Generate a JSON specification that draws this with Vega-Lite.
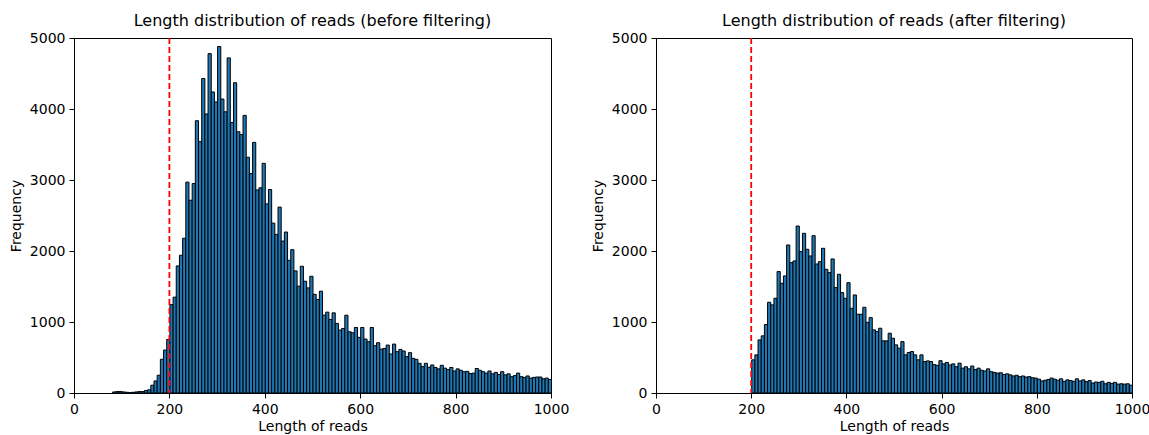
{
  "$schema": "https://vega.github.io/schema/vega-lite/v6.json",
  "background": "white",
  "padding": {"left": 8, "top": 12, "right": 0, "bottom": 0},
  "datasets": {
    "before": [
      {"length": 83, "count": 15}, {"length": 90, "count": 20}, {"length": 97, "count": 20}, {"length": 103, "count": 15},
      {"length": 110, "count": 10}, {"length": 117, "count": 5}, {"length": 123, "count": 10}, {"length": 130, "count": 15},
      {"length": 137, "count": 20}, {"length": 143, "count": 20}, {"length": 150, "count": 35}, {"length": 157, "count": 45},
      {"length": 163, "count": 110}, {"length": 170, "count": 170}, {"length": 177, "count": 250}, {"length": 183, "count": 475},
      {"length": 190, "count": 605}, {"length": 197, "count": 755}, {"length": 203, "count": 1245}, {"length": 210, "count": 1350},
      {"length": 217, "count": 1790}, {"length": 223, "count": 1940}, {"length": 230, "count": 2180}, {"length": 237, "count": 2970},
      {"length": 243, "count": 2715}, {"length": 250, "count": 2950}, {"length": 257, "count": 3835}, {"length": 263, "count": 3540},
      {"length": 270, "count": 4430}, {"length": 277, "count": 3930}, {"length": 283, "count": 4780}, {"length": 290, "count": 4240},
      {"length": 297, "count": 4100}, {"length": 303, "count": 4880}, {"length": 310, "count": 4140}, {"length": 317, "count": 3960},
      {"length": 323, "count": 4720}, {"length": 330, "count": 3810}, {"length": 337, "count": 4370}, {"length": 343, "count": 3680},
      {"length": 350, "count": 3640}, {"length": 357, "count": 3910}, {"length": 363, "count": 3320}, {"length": 370, "count": 3090},
      {"length": 377, "count": 3530}, {"length": 383, "count": 2860}, {"length": 390, "count": 2890}, {"length": 397, "count": 3235},
      {"length": 403, "count": 2664}, {"length": 410, "count": 2866}, {"length": 417, "count": 2393}, {"length": 423, "count": 2234},
      {"length": 430, "count": 2618}, {"length": 437, "count": 2140}, {"length": 443, "count": 2267}, {"length": 450, "count": 1869},
      {"length": 457, "count": 2019}, {"length": 463, "count": 1720}, {"length": 470, "count": 1504}, {"length": 477, "count": 1785},
      {"length": 483, "count": 1574}, {"length": 490, "count": 1480}, {"length": 497, "count": 1644}, {"length": 503, "count": 1390},
      {"length": 510, "count": 1317}, {"length": 517, "count": 1434}, {"length": 523, "count": 1097}, {"length": 530, "count": 1139},
      {"length": 537, "count": 1036}, {"length": 543, "count": 1129}, {"length": 550, "count": 980}, {"length": 557, "count": 886},
      {"length": 563, "count": 909}, {"length": 570, "count": 1096}, {"length": 577, "count": 862}, {"length": 583, "count": 848},
      {"length": 590, "count": 923}, {"length": 597, "count": 783}, {"length": 603, "count": 923}, {"length": 610, "count": 760},
      {"length": 617, "count": 722}, {"length": 623, "count": 923}, {"length": 630, "count": 666}, {"length": 637, "count": 708},
      {"length": 643, "count": 619}, {"length": 650, "count": 628}, {"length": 657, "count": 675}, {"length": 663, "count": 549},
      {"length": 670, "count": 689}, {"length": 677, "count": 582}, {"length": 683, "count": 614}, {"length": 690, "count": 591},
      {"length": 697, "count": 512}, {"length": 703, "count": 568}, {"length": 710, "count": 488}, {"length": 717, "count": 474},
      {"length": 723, "count": 418}, {"length": 730, "count": 371}, {"length": 737, "count": 418}, {"length": 743, "count": 362},
      {"length": 750, "count": 395}, {"length": 757, "count": 360}, {"length": 763, "count": 340}, {"length": 770, "count": 390},
      {"length": 777, "count": 350}, {"length": 783, "count": 330}, {"length": 790, "count": 360}, {"length": 797, "count": 310},
      {"length": 803, "count": 340}, {"length": 810, "count": 320}, {"length": 817, "count": 300}, {"length": 823, "count": 305},
      {"length": 830, "count": 275}, {"length": 837, "count": 280}, {"length": 843, "count": 345}, {"length": 850, "count": 320},
      {"length": 857, "count": 300}, {"length": 863, "count": 280}, {"length": 870, "count": 310}, {"length": 877, "count": 270},
      {"length": 883, "count": 290}, {"length": 890, "count": 260}, {"length": 897, "count": 300}, {"length": 903, "count": 255},
      {"length": 910, "count": 270}, {"length": 917, "count": 230}, {"length": 923, "count": 245}, {"length": 930, "count": 280},
      {"length": 937, "count": 230}, {"length": 943, "count": 220}, {"length": 950, "count": 240}, {"length": 957, "count": 210},
      {"length": 963, "count": 220}, {"length": 970, "count": 225}, {"length": 977, "count": 225}, {"length": 983, "count": 200},
      {"length": 990, "count": 210}, {"length": 997, "count": 190}
    ],
    "after": [
      {"length": 203, "count": 467}, {"length": 210, "count": 537}, {"length": 217, "count": 748}, {"length": 223, "count": 805},
      {"length": 230, "count": 964}, {"length": 237, "count": 1278}, {"length": 243, "count": 1241}, {"length": 250, "count": 1334},
      {"length": 257, "count": 1710}, {"length": 263, "count": 1545}, {"length": 270, "count": 1649}, {"length": 277, "count": 2085},
      {"length": 283, "count": 1836}, {"length": 290, "count": 1860}, {"length": 297, "count": 2352}, {"length": 303, "count": 1991},
      {"length": 310, "count": 2249}, {"length": 317, "count": 2024}, {"length": 323, "count": 1930}, {"length": 330, "count": 2216},
      {"length": 337, "count": 1817}, {"length": 343, "count": 1850}, {"length": 350, "count": 2038}, {"length": 357, "count": 1742},
      {"length": 363, "count": 1696}, {"length": 370, "count": 1888}, {"length": 377, "count": 1484}, {"length": 383, "count": 1672},
      {"length": 390, "count": 1414}, {"length": 397, "count": 1334}, {"length": 403, "count": 1554}, {"length": 410, "count": 1193},
      {"length": 417, "count": 1381}, {"length": 423, "count": 1109}, {"length": 430, "count": 1109}, {"length": 437, "count": 1207},
      {"length": 443, "count": 996}, {"length": 450, "count": 1062}, {"length": 457, "count": 889}, {"length": 463, "count": 865},
      {"length": 470, "count": 912}, {"length": 477, "count": 734}, {"length": 483, "count": 734}, {"length": 490, "count": 842},
      {"length": 497, "count": 771}, {"length": 503, "count": 678}, {"length": 510, "count": 631}, {"length": 517, "count": 724},
      {"length": 523, "count": 537}, {"length": 530, "count": 570}, {"length": 537, "count": 584}, {"length": 543, "count": 537},
      {"length": 550, "count": 467}, {"length": 557, "count": 537}, {"length": 563, "count": 443}, {"length": 570, "count": 452},
      {"length": 577, "count": 443}, {"length": 583, "count": 400}, {"length": 590, "count": 390}, {"length": 597, "count": 455},
      {"length": 603, "count": 410}, {"length": 610, "count": 430}, {"length": 617, "count": 395}, {"length": 623, "count": 410},
      {"length": 630, "count": 370}, {"length": 637, "count": 420}, {"length": 643, "count": 350}, {"length": 650, "count": 370},
      {"length": 657, "count": 340}, {"length": 663, "count": 380}, {"length": 670, "count": 330}, {"length": 677, "count": 350},
      {"length": 683, "count": 320}, {"length": 690, "count": 310}, {"length": 697, "count": 340}, {"length": 703, "count": 300},
      {"length": 710, "count": 290}, {"length": 717, "count": 280}, {"length": 723, "count": 285}, {"length": 730, "count": 260},
      {"length": 737, "count": 270}, {"length": 743, "count": 255}, {"length": 750, "count": 240}, {"length": 757, "count": 250},
      {"length": 763, "count": 230}, {"length": 770, "count": 240}, {"length": 777, "count": 225}, {"length": 783, "count": 230},
      {"length": 790, "count": 215}, {"length": 797, "count": 210}, {"length": 803, "count": 195}, {"length": 810, "count": 170},
      {"length": 817, "count": 180}, {"length": 823, "count": 190}, {"length": 830, "count": 210}, {"length": 837, "count": 195},
      {"length": 843, "count": 180}, {"length": 850, "count": 200}, {"length": 857, "count": 165}, {"length": 863, "count": 185},
      {"length": 870, "count": 175}, {"length": 877, "count": 165}, {"length": 883, "count": 200}, {"length": 890, "count": 170},
      {"length": 897, "count": 185}, {"length": 903, "count": 160}, {"length": 910, "count": 175}, {"length": 917, "count": 140},
      {"length": 923, "count": 155}, {"length": 930, "count": 150}, {"length": 937, "count": 165}, {"length": 943, "count": 130},
      {"length": 950, "count": 150}, {"length": 957, "count": 135}, {"length": 963, "count": 150}, {"length": 970, "count": 125},
      {"length": 977, "count": 130}, {"length": 983, "count": 125}, {"length": 990, "count": 130}, {"length": 997, "count": 110}
    ],
    "threshold": [{"cutoff": 200}]
  },
  "spacing": 105,
  "bounds": "flush",
  "hconcat": [
    {
      "width": 477,
      "height": 355,
      "title": "Length distribution of reads (before filtering)",
      "layer": [
        {
          "data": {"name": "before"},
          "mark": {"type": "bar", "fill": "#1f77b4", "stroke": "black", "strokeWidth": 1, "binSpacing": 0},
          "encoding": {
            "x": {"field": "length", "type": "quantitative", "bin": {"extent": [0, 1000], "step": 6.666666666666667, "nice": false},
                  "title": "Length of reads", "scale": {"domain": [0, 1000]},
                  "axis": {"values": [0, 200, 400, 600, 800, 1000], "format": "d", "labelFlush": false}},
            "y": {"field": "count", "aggregate": "sum", "type": "quantitative", "title": "Frequency",
                  "scale": {"domain": [0, 5000]},
                  "axis": {"values": [0, 1000, 2000, 3000, 4000, 5000], "format": "d"}}
          }
        },
        {
          "data": {"name": "threshold"},
          "mark": {"type": "rule", "color": "#ff0000", "strokeWidth": 1.8, "strokeDash": [6, 3]},
          "encoding": {"x": {"field": "cutoff", "type": "quantitative", "title": "Length of reads"}}
        }
      ]
    },
    {
      "width": 476,
      "height": 355,
      "title": "Length distribution of reads (after filtering)",
      "layer": [
        {
          "data": {"name": "after"},
          "mark": {"type": "bar", "fill": "#1f77b4", "stroke": "black", "strokeWidth": 1, "binSpacing": 0},
          "encoding": {
            "x": {"field": "length", "type": "quantitative", "bin": {"extent": [0, 1000], "step": 6.666666666666667, "nice": false},
                  "title": "Length of reads", "scale": {"domain": [0, 1000]},
                  "axis": {"values": [0, 200, 400, 600, 800, 1000], "format": "d", "labelFlush": false}},
            "y": {"field": "count", "aggregate": "sum", "type": "quantitative", "title": "Frequency",
                  "scale": {"domain": [0, 5000]},
                  "axis": {"values": [0, 1000, 2000, 3000, 4000, 5000], "format": "d"}}
          }
        },
        {
          "data": {"name": "threshold"},
          "mark": {"type": "rule", "color": "#ff0000", "strokeWidth": 1.8, "strokeDash": [6, 3]},
          "encoding": {"x": {"field": "cutoff", "type": "quantitative", "title": "Length of reads"}}
        }
      ]
    }
  ],
  "config": {
    "font": "DejaVu Sans",
    "view": {"stroke": "black", "strokeWidth": 1},
    "title": {"font": "DejaVu Sans", "fontSize": 16, "fontWeight": "normal", "color": "black", "offset": 2},
    "axis": {
      "grid": false,
      "domainColor": "black",
      "tickColor": "black",
      "labelColor": "black",
      "titleColor": "black",
      "labelFont": "DejaVu Sans",
      "titleFont": "DejaVu Sans",
      "labelFontSize": 14,
      "titleFontSize": 14,
      "titleFontWeight": "normal",
      "tickSize": 5,
      "labelPadding": 4,
      "titlePadding": 6
    },
    "axisX": {"titlePadding": 3}
  }
}
